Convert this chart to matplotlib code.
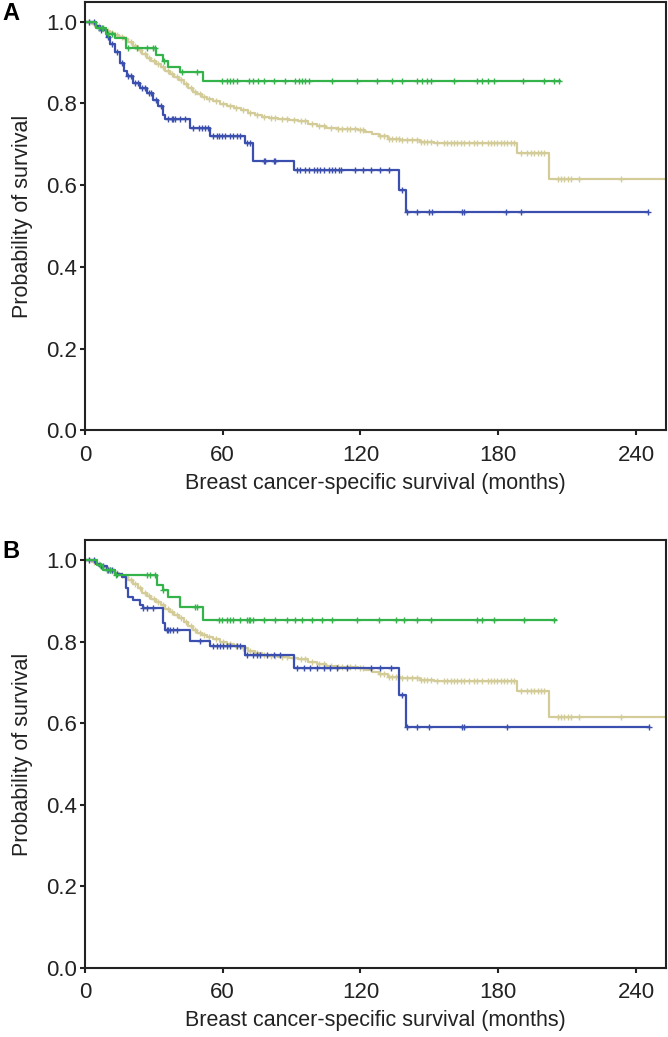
import numpy as np
import matplotlib
matplotlib.use("Agg")
import matplotlib.pyplot as plt

plt.rcParams['font.family'] = ['Liberation Sans', 'DejaVu Sans']

GREEN = '#34b34a'
BLUE = '#3a4fae'
TAN = '#d3cc98'

# reference group (tan), same in both panels
tan_t = [0, 3, 5, 7, 9, 11, 13, 15, 17, 19, 21, 23, 25, 27, 29, 31, 33, 35, 37, 39,
         41, 43, 45, 47, 49, 51, 53, 56, 59, 62, 65, 68, 71, 74, 77, 80, 84, 89, 93,
         97, 101, 105, 110, 119, 122, 125, 128, 132, 137, 146, 152, 188, 202]
tan_s = [1.0, 0.995, 0.99, 0.983, 0.978, 0.972, 0.968, 0.962, 0.957, 0.95, 0.94,
         0.93, 0.92, 0.912, 0.903, 0.897, 0.89, 0.88, 0.873, 0.865, 0.857, 0.848,
         0.838, 0.828, 0.822, 0.815, 0.81, 0.805, 0.798, 0.793, 0.789, 0.784, 0.777,
         0.772, 0.768, 0.765, 0.763, 0.76, 0.757, 0.75, 0.745, 0.74, 0.737, 0.735,
         0.73, 0.725, 0.72, 0.713, 0.71, 0.706, 0.703, 0.678, 0.615]
tan_end = 254
tan_cens = [2, 4, 6, 8, 10, 12, 14, 16, 18, 20, 22, 24, 26, 28, 30, 32, 34, 36, 38,
            40, 42, 44, 46, 48, 50, 52, 54, 57, 60, 63, 66, 69, 72, 75, 78, 81, 83,
            86, 88, 91, 94, 96, 99, 102, 104, 107, 110, 112, 114.2, 115.6, 117.8,
            120, 121.3, 128.7, 130.2, 132.3, 133.8, 135.3, 136.7, 138.2, 140.4,
            142.5, 144.7, 146.2, 147.6, 149.1, 150.5, 153.4, 156.4, 157.8, 159.3,
            160.7, 162.2, 163.6, 165.1, 167.3, 169.4, 170.9, 173.1, 175.3, 176.7,
            178.2, 179.6, 181.1, 182.5, 184, 185.5, 186.9, 189.8, 192.7, 194.2,
            195.6, 197.1, 198.5, 200, 205.8, 207.3, 208.7, 210.2, 211.6, 215.3, 233.5]

# panel A
ga_t = [0, 5, 9, 13, 18, 31, 34, 36, 41.5, 51.6]
ga_s = [1.0, 0.985, 0.97, 0.96, 0.935, 0.918, 0.905, 0.89, 0.878, 0.856]
ga_end = 207
ga_cens = [6, 7.5, 8, 10, 12, 18.9, 22.6, 27, 29.8, 30.5, 34.5, 42.2, 48.7, 59.6,
           61.8, 63.3, 64.7, 66.2, 71.3, 73.4, 75.6, 77.8, 82.2, 87.3, 91.6, 93.1,
           94.5, 95.9, 97.4, 107.6, 118.6, 127.3, 133.8, 138.2, 144.7, 146.9, 149.1,
           150.5, 160.7, 170.9, 173.1, 175.3, 178.2, 190.6, 200, 204.4, 206.5]

ba_t = [0, 5, 6.5, 9.5, 11, 13.1, 15.3, 17, 18.2, 21.1, 24, 26.9, 29.8, 32, 34.2,
        34.9, 45.8, 54.5, 69.8, 73.4, 90.9, 136.7, 139.6]
ba_s = [1.0, 0.99, 0.98, 0.963, 0.945, 0.927, 0.898, 0.88, 0.866, 0.85, 0.837,
        0.825, 0.809, 0.793, 0.772, 0.763, 0.741, 0.72, 0.703, 0.659, 0.636, 0.587,
        0.534]
ba_end = 245
ba_cens = [2, 4, 7, 10, 12, 14, 16, 19, 20, 22, 23, 25, 26, 28, 29, 31, 33, 36.4,
           37.8, 38.5, 39.3, 41.5, 43.6, 47.3, 49.5, 50.9, 52.4, 53.8, 56, 57.5,
           58.2, 59.6, 61.1, 63.3, 64.7, 66.2, 67.6, 70.6, 72, 77.8, 78.5, 82.2,
           82.9, 92.4, 93.8, 96, 97.4, 99.6, 101.1, 102.5, 104, 106.2, 107.6, 109.1,
           110.5, 111.3, 117.8, 121.3, 124.4, 128.7, 132.2, 138, 140.4, 144.7, 149.8,
           151.3, 164.4, 165.1, 183.3, 189.8, 245]

# panel B
gb_t = [0, 5.1, 8, 13, 31.3, 34.2, 36, 41.5, 51.6]
gb_s = [1.0, 0.988, 0.975, 0.963, 0.939, 0.925, 0.91, 0.884, 0.853]
gb_end = 205
gb_cens = [6.5, 9.5, 10.9, 13.5, 26.9, 28.4, 30.5, 34.2, 48, 48.7, 58.2, 59.6, 61.8,
           63.3, 64.7, 67.6, 70.6, 71.3, 72, 73.4, 77.8, 82.9, 88, 91.6, 94.5, 98.9,
           103.3, 107.6, 118.6, 128, 135.3, 138.9, 144.7, 150.5, 170.9, 173.1,
           178.2, 191.3, 204.4]

bb_t = [0, 5, 6.5, 9.5, 13, 16, 18, 19, 21, 24, 25.5, 34.2, 35, 45.8, 54.5, 69.8,
        90.9, 136.7, 139.6]
bb_s = [1.0, 0.99, 0.985, 0.975, 0.965, 0.959, 0.931, 0.91, 0.902, 0.89, 0.882,
        0.845, 0.828, 0.802, 0.788, 0.767, 0.734, 0.669, 0.591]
bb_end = 245.8
bb_cens = [2, 4, 7, 8, 10, 11, 12, 14, 25.5, 26.9, 29.8, 35.6, 36.4, 37.1, 38.5, 40,
           50.2, 56, 57.5, 58.9, 60.3, 61.8, 63.3, 66.2, 67.6, 70.6, 73.4, 74.9,
           76.4, 79.3, 82.2, 85.1, 92.4, 95.3, 98.2, 101.1, 104, 106.9, 109.8, 114.2,
           124.4, 128.7, 133.1, 138.2, 140.4, 144.7, 149.8, 164.4, 165.1, 184, 245.8]

panels = [
    ('A', [(tan_t, tan_s, tan_end, tan_cens, TAN),
           (ba_t, ba_s, ba_end, ba_cens, BLUE),
           (ga_t, ga_s, ga_end, ga_cens, GREEN)]),
    ('B', [(tan_t, tan_s, tan_end, tan_cens, TAN),
           (bb_t, bb_s, bb_end, bb_cens, BLUE),
           (gb_t, gb_s, gb_end, gb_cens, GREEN)]),
]

fig = plt.figure(figsize=(6.68, 10.37), dpi=100)
rects = [[0.127, 0.585, 0.870, 0.413], [0.127, 0.0665, 0.870, 0.4125]]

for (letter, curves), rect in zip(panels, rects):
    ax = fig.add_axes(rect)
    for t, s, end, cens, col in curves:
        t = np.array(t + [end])
        s = np.array(s + [s[-1]])
        ax.step(t, s, where='post', color=col, lw=1.6)
        c = np.array(cens)
        idx = np.searchsorted(t, c, side='right') - 1
        ax.plot(c, s[idx], ls='none', marker='+', ms=5, mew=1.0, color=col)
    ax.set_xlim(0, 253)
    ax.set_ylim(0, 1.048)
    ax.set_xticks([0, 60, 120, 180, 240])
    ax.set_yticks([0.0, 0.2, 0.4, 0.6, 0.8, 1.0])
    ax.set_yticklabels(['0.0', '0.2', '0.4', '0.6', '0.8', '1.0'])
    for sp in ax.spines.values():
        sp.set_linewidth(1.5)
        sp.set_color('#222222')
    ax.tick_params(direction='out', length=3.8, width=1.5, labelsize=16,
                   color='#222222', labelcolor='#222222')
    ax.tick_params(axis='x', pad=6.5)
    ax.tick_params(axis='y', pad=2)
    ax.set_xlabel('Breast cancer-specific survival (months)', fontsize=15.5,
                  labelpad=5, color='#222222')
    ax.set_ylabel('Probability of survival', fontsize=15.5, labelpad=9,
                  color='#222222')
    ax.text(-0.142, 1.0, letter, transform=ax.transAxes, fontsize=17,
            fontweight='bold', va='top', ha='left')

fig.savefig('out.png', dpi=100)
